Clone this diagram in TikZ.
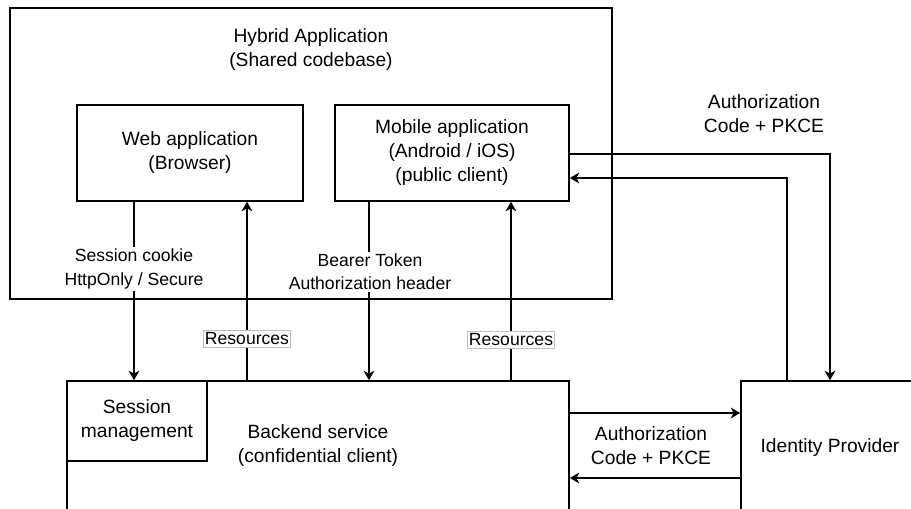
\documentclass[tikz,border=0pt]{standalone}
\usepackage{fontspec}
\setmainfont{Liberation Sans}
\usetikzlibrary{arrows.meta}
\tikzset{
  box/.style={draw,line width=1.2pt,inner sep=0pt,align=center,font=\fontsize{14.4}{18}\selectfont},
  txt/.style={inner sep=0pt,align=center,font=\fontsize{14.4}{18}\selectfont},
  lab/.style={inner sep=1.5pt,align=center,fill=white,font=\fontsize{13.2}{17.4}\selectfont},
  res/.style={lab,draw=black!25,line width=0.6pt,inner xsep=1pt,inner ysep=1.5pt},
  arr/.style={line width=1.2pt,-{Stealth[length=7pt,width=8pt,inset=2pt]}}
}

\begin{document}
\begin{tikzpicture}[x=0.75pt,y=-0.75pt]
\useasboundingbox (0,0) rectangle (911,509);
\clip (0,0) rectangle (911,509);
% boxes
\node[box,minimum width=451.5pt,minimum height=218.25pt] (hyb) at (311,153.5) {};
\node[txt] (hybt) at (311,50) {Hybrid Application\\(Shared codebase)};
\node[box,minimum width=169.5pt,minimum height=72pt] (web) at (190,153) {Web application\\(Browser)};
\node[box,minimum width=175.5pt,minimum height=72pt] (mob) at (452,153) {Mobile application\\(Android / iOS)\\(public client)};
\node[box,minimum width=376.5pt,minimum height=97.5pt] (back) at (318,446) {Backend service\\(confidential client)};
\node[box,minimum width=105pt,minimum height=60pt] (sess) at (137,421) {Session\\management};
\node[box,minimum width=133.5pt,minimum height=100.5pt] (idp) at (830,448) {Identity Provider};
% where the connectors run
\coordinate (xa) at (134,0);
\coordinate (xb) at (247,0);
\coordinate (xc) at (369,0);
\coordinate (xd) at (511,0);
\coordinate (xf) at (787,0);
\coordinate (ya) at (0,154);
\coordinate (yb) at (0,178);
\coordinate (yc) at (0,413);
\coordinate (yd) at (0,478);
% connectors
\draw[arr] (web.south -| xa) -- (sess.north -| xa);
\draw[arr] (back.north -| xb) -- (web.south -| xb);
\draw[arr] (mob.south -| xc) -- (back.north -| xc);
\draw[arr] (back.north -| xd) -- (mob.south -| xd);
\draw[arr] (mob.east |- ya) -| (idp.north);
\draw[arr] (idp.north -| xf) |- (mob.east |- yb);
\draw[arr] (back.east |- yc) -- (idp.west |- yc);
\draw[arr] (idp.west |- yd) -- (back.east |- yd);
% labels
\node[lab] (cookie) at (134,269) {Session cookie\\HttpOnly / Secure};
\node[res] (res1) at (247,339) {Resources};
\node[lab] (bearer) at (370,272) {Bearer Token\\Authorization header};
\node[res] (res2) at (511,340) {Resources};
\node[txt] (pkce1) at (764,114) {Authorization\\Code + PKCE};
\node[txt] (pkce2) at (651,446) {Authorization\\Code + PKCE};
\end{tikzpicture}
\end{document}
